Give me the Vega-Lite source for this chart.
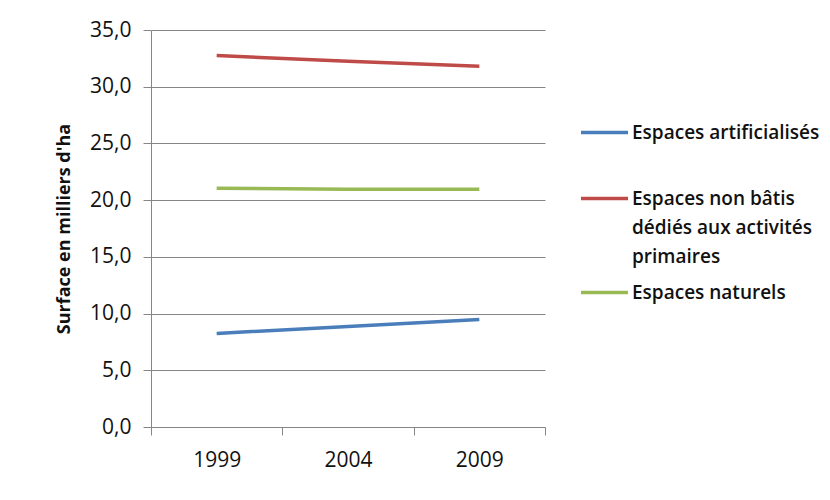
{
  "$schema": "https://vega.github.io/schema/vega-lite/v6.json",
  "autosize": {"type": "none"},
  "width": 394,
  "height": 397,
  "padding": {"left": 151, "top": 30, "right": 285, "bottom": 73},
  "background": "white",
  "data": {
    "values": [
      {"serie": "Espaces artificialisés", "annee": "1999", "surface": 8.25},
      {"serie": "Espaces artificialisés", "annee": "2004", "surface": 8.87},
      {"serie": "Espaces artificialisés", "annee": "2009", "surface": 9.47},
      {"serie": "Espaces non bâtis dédiés aux activités primaires", "annee": "1999", "surface": 32.75},
      {"serie": "Espaces non bâtis dédiés aux activités primaires", "annee": "2004", "surface": 32.25},
      {"serie": "Espaces non bâtis dédiés aux activités primaires", "annee": "2009", "surface": 31.8},
      {"serie": "Espaces naturels", "annee": "1999", "surface": 21.05},
      {"serie": "Espaces naturels", "annee": "2004", "surface": 20.97},
      {"serie": "Espaces naturels", "annee": "2009", "surface": 20.95}
    ]
  },
  "mark": {"type": "line", "strokeWidth": 3.5},
  "encoding": {
    "x": {
      "field": "annee",
      "type": "ordinal",
      "bandPosition": 0.5,
      "scale": {"type": "band", "paddingInner": 0, "paddingOuter": 0},
      "axis": {
        "title": null,
        "labelAngle": 0,
        "tickBand": "extent",
        "tickSize": 8,
        "tickColor": "#868686",
        "domainColor": "#868686",
        "labelPadding": 14,
        "labelFontSize": 21,
        "labelFont": "Open Sans",
        "labelColor": "#111111",
        "grid": false
      }
    },
    "y": {
      "field": "surface",
      "type": "quantitative",
      "scale": {"domain": [0, 35], "nice": false},
      "axis": {
        "title": "Surface en milliers d'ha",
        "titleFont": "Open Sans",
        "titleFontSize": 18,
        "titleFontWeight": "bold",
        "titleColor": "#111111",
        "titlePadding": 16,
        "values": [0, 5, 10, 15, 20, 25, 30, 35],
        "labelExpr": "replace(format(datum.value, '.1f'), '.', ',')",
        "labelFontSize": 21,
        "labelFont": "Open Sans",
        "labelColor": "#111111",
        "labelPadding": 12,
        "tickSize": 8,
        "tickColor": "#868686",
        "domainColor": "#868686",
        "grid": true,
        "gridColor": "#868686",
        "gridWidth": 1
      }
    },
    "color": {
      "field": "serie",
      "type": "nominal",
      "scale": {
        "domain": ["Espaces artificialisés", "Espaces non bâtis dédiés aux activités primaires", "Espaces naturels"],
        "range": ["#4A7EBB", "#BE4B48", "#98B954"]
      },
      "legend": {
        "title": null,
        "orient": "none",
        "legendX": 428,
        "legendY": 77,
        "symbolType": "M-1,0H1",
        "symbolSize": 2209,
        "symbolStrokeWidth": 3.5,
        "labelOffset": 2,
        "labelFont": "Open Sans",
        "labelFontSize": 19,
        "labelFontWeight": 600,
        "labelColor": "#111111",
        "labelLimit": 300,
        "rowPadding": 0,
        "labelExpr": "datum.label == 'Espaces non bâtis dédiés aux activités primaires' ? ['Espaces non bâtis', 'dédiés aux activités', 'primaires'] : datum.label == 'Espaces artificialisés' ? ['Espaces artificialisés', ''] : datum.label",
        "encode": {
          "labels": {
            "update": {
              "lineHeight": {"signal": "datum.value == 'Espaces artificialisés' ? 30 : 29"}
            }
          }
        }
      }
    }
  },
  "config": {
    "view": {"stroke": null}
  }
}
